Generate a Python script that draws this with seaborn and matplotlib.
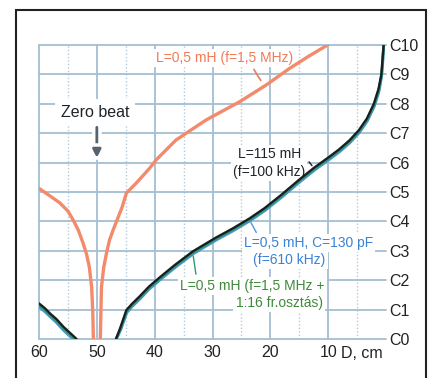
import matplotlib
matplotlib.use("Agg")
import matplotlib.pyplot as plt
import matplotlib.patheffects as pe
from matplotlib.patches import Rectangle
from matplotlib.transforms import blended_transform_factory
import seaborn as sns

sns.set_style("white")
plt.rcParams['font.family'] = ['Liberation Sans', 'DejaVu Sans']

# orange curve, L=0,5 mH (f=1,5 MHz), two branches around the zero beat
orange_left_d = [60, 58.5, 56.4, 55.0, 54.1, 53.2, 52.4, 51.8, 51.3, 50.9, 50.7, 50.6]
orange_left_c = [5.12, 4.92, 4.63, 4.35, 4.05, 3.7, 3.27, 2.9, 2.45, 1.77, 0.9, 0.0]
orange_right_d = [49.4, 49.3, 49.2, 48.8, 48.3, 47.8, 47.1, 46.5, 45.6, 44.9, 43.2,
                  40.9, 39.7, 36.3, 31.1, 25.3, 20.7, 16.7, 13.5, 10.1]
orange_right_c = [0.0, 0.9, 1.77, 2.45, 2.95, 3.37, 3.75, 4.05, 4.5, 4.96, 5.3,
                  5.8, 6.1, 6.77, 7.45, 8.07, 8.64, 9.2, 9.6, 10.0]

# L=115 mH (black)
black_left_d = [60, 59, 58.1, 57, 55.8, 54.6, 53.5]
black_left_c = [1.21, 1.05, 0.87, 0.68, 0.42, 0.2, 0.0]
black_right_d = [46.7, 46.0, 45.3, 44.9, 44.0, 42.6, 41.0, 39.1, 36.5, 33.4, 29.4, 26.5,
                 23.6, 21.0, 18.0, 15.0, 12.4, 10.0, 8.1, 6.3, 4.7, 3.3, 2.1, 1.3, 0.8, 0.6, 0.4]
black_right_c = [0.0, 0.35, 0.75, 0.98, 1.18, 1.45, 1.78, 2.1, 2.52, 2.98, 3.45, 3.76,
                 4.1, 4.45, 4.92, 5.42, 5.83, 6.17, 6.45, 6.76, 7.1, 7.5, 8.0, 8.5, 9.0, 9.5, 10.0]

# L=0,5 mH, C=130 pF (blue)
blue_left_d = [60, 59, 58.1, 57, 55.8, 54.6, 54.0]
blue_left_c = [1.09, 0.93, 0.76, 0.56, 0.3, 0.08, 0.0]
blue_right_d = [46.6, 45.9, 45.2, 44.8, 43.9, 42.5, 40.9, 39.0, 36.4, 33.3, 29.3, 26.4,
                23.5, 20.9, 17.9, 14.9, 12.3, 9.9, 8.0, 6.2, 4.6, 3.2, 2.0, 1.2, 0.75, 0.55, 0.4]
blue_right_c = [0.0, 0.3, 0.68, 0.9, 1.1, 1.37, 1.7, 2.02, 2.44, 2.9, 3.37, 3.68,
                4.02, 4.37, 4.84, 5.34, 5.75, 6.09, 6.37, 6.68, 7.02, 7.42, 7.92, 8.42, 8.92, 9.42, 10.0]

# L=0,5 mH (f=1,5 MHz + 1:16 fr.osztás) (green)
green_left_d = [60, 59, 58.1, 57, 55.8, 54.6, 53.8]
green_left_c = [1.15, 0.99, 0.81, 0.62, 0.36, 0.14, 0.0]
green_right_d = [46.65, 45.95, 45.25, 44.85, 43.95, 42.55, 40.95, 39.05, 36.45, 33.35, 29.35, 26.45,
                 23.55, 20.95, 17.95, 14.95, 12.35, 9.95, 8.05, 6.25, 4.65, 3.25, 2.05, 1.25, 0.78, 0.58, 0.4]
green_right_c = [0.0, 0.32, 0.71, 0.94, 1.14, 1.41, 1.74, 2.06, 2.48, 2.94, 3.41, 3.72,
                 4.06, 4.41, 4.88, 5.38, 5.79, 6.13, 6.41, 6.72, 7.06, 7.46, 7.96, 8.46, 8.96, 9.46, 10.0]

x_ticks = [60, 50, 40, 30, 20, 10]
x_labels = ['60', '50', '40', '30', '20', '10']
y_ticks = list(range(11))
y_labels = ['C%d' % i for i in y_ticks]

ORANGE = '#f38a6c'
BLACK = '#1b1f1f'
BLUE = '#4f97dc'
GREEN = '#2f9a78'
GRID = '#a3bfd2'

fig = plt.figure(figsize=(4.32, 3.78), dpi=100)
fig.patch.set_facecolor('white')
ax = fig.add_axes([0.0903, 0.1032, 0.8032, 0.7778])

line_kw = dict(sort=False, estimator=None, ax=ax, legend=False)
sns.lineplot(x=orange_left_d, y=orange_left_c, color=ORANGE, lw=2.4, zorder=4, **line_kw)
sns.lineplot(x=orange_right_d, y=orange_right_c, color=ORANGE, lw=2.4, zorder=4, **line_kw)
for d, c in [(blue_left_d, blue_left_c), (blue_right_d, blue_right_c)]:
    sns.lineplot(x=d, y=c, color=BLUE, lw=2.0, zorder=4, **line_kw)
for d, c in [(green_left_d, green_left_c), (green_right_d, green_right_c)]:
    sns.lineplot(x=d, y=c, color=GREEN, lw=2.0, zorder=5, **line_kw)
for d, c in [(black_left_d, black_left_c), (black_right_d, black_right_c)]:
    sns.lineplot(x=d, y=c, color=BLACK, lw=1.7, zorder=6, **line_kw)

ax.set_xlim(60, 0)
ax.set_ylim(0, 10)
ax.set_xticks(x_ticks)
ax.set_xticklabels(x_labels)
ax.set_xticks([55, 45, 35, 25, 15, 5], minor=True)
ax.set_yticks(y_ticks)
ax.set_yticklabels(y_labels)
ax.yaxis.tick_right()
ax.set_axisbelow(True)
ax.grid(which='major', color=GRID, lw=1.3)
ax.grid(which='minor', axis='x', color='#b4cadb', lw=1.0, ls=(0, (1, 1.5)))
ax.grid(which='minor', axis='y', visible=False)
for gl in ax.get_xgridlines() + ax.get_ygridlines():
    gl.set_clip_on(False)
ax.tick_params(axis='x', which='both', length=0, pad=4, labelsize=11.5, colors='#222222')
ax.tick_params(axis='y', which='both', length=0, pad=2, labelsize=11.5, colors='#222222')
ax.set_xlabel('')
ax.set_ylabel('')
sns.despine(ax=ax, left=True, bottom=True, top=True, right=True)

trans = blended_transform_factory(ax.transData, ax.transAxes)
ax.text(4.1, -0.048, 'D, cm', transform=trans, ha='center', va='center',
        fontsize=11.5, color='#222222')

box = dict(boxstyle='square,pad=0.15', fc='white', ec='none')

# labels
ax.text(27.9, 9.56, 'L=0,5 mH (f=1,5 MHz)', ha='center', va='center', fontsize=10,
        color='#f07a58', bbox=box, zorder=3)
ax.annotate('', xy=(21.4, 8.71), xytext=(23.1, 9.25),
            arrowprops=dict(arrowstyle='-', color='#f07a58', lw=1.2), zorder=3)

ax.text(50.3, 7.72, 'Zero beat', ha='center', va='center', fontsize=11.5, color='#1e2428',
        bbox=dict(boxstyle='square,pad=0.35', fc='white', ec='none'), zorder=3)
ax.annotate('', xy=(50, 6.16), xytext=(50, 7.2),
            arrowprops=dict(arrowstyle='-|>', color='#56626c', lw=2.0, mutation_scale=12,
                            shrinkA=0, shrinkB=0,
                            path_effects=[pe.withStroke(linewidth=7, foreground='white')]),
            zorder=3)

ax.text(20.2, 5.99, 'L=115 mH\n(f=100 kHz)', ha='center', va='center', fontsize=10,
        color='#1e2428', linespacing=1.35, bbox=box, zorder=3)
ax.annotate('', xy=(12.5, 5.82), xytext=(13.6, 6.1),
            arrowprops=dict(arrowstyle='-', color=BLACK, lw=1.0), zorder=7)

ax.text(13.4, 3.27, 'L=0,5 mH, C=130 pF', ha='center', va='center', fontsize=10,
        color='#3a82d6', bbox=box, zorder=3)
ax.text(16.7, 2.69, '(f=610 kHz)', ha='center', va='center', fontsize=10,
        color='#3a82d6', bbox=box, zorder=3)
ax.annotate('', xy=(23.6, 4.05), xytext=(22.2, 3.54),
            arrowprops=dict(arrowstyle='-', color=BLUE, lw=1.0), zorder=3)

ax.text(23.1, 1.80, 'L=0,5 mH (f=1,5 MHz +', ha='center', va='center', fontsize=10,
        color='#3f8a3a', bbox=box, zorder=3)
ax.text(18.5, 1.22, '1:16 fr.osztás)', ha='center', va='center', fontsize=10,
        color='#3f8a3a', bbox=box, zorder=3)
ax.annotate('', xy=(33.4, 2.92), xytext=(32.8, 2.11),
            arrowprops=dict(arrowstyle='-', color=GREEN, lw=1.0), zorder=3)

# outer frame of the picture
fig.patches.append(Rectangle((16 / 432, -0.05), 410 / 432, 1.05 - 10 / 378,
                             transform=fig.transFigure, fill=False, ec='#222222',
                             lw=1.5, clip_on=False))

fig.savefig('out.png', dpi=100)
